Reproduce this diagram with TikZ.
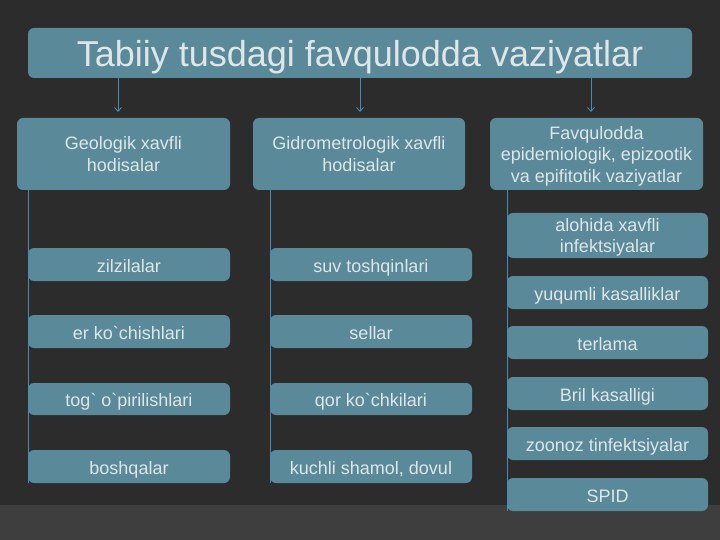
\documentclass[tikz,border=0pt]{standalone}
\usepackage{fontspec}
\setmainfont{Liberation Sans}
\usetikzlibrary{arrows.meta}
\definecolor{bgc}{RGB}{44,44,44}
\definecolor{bgb}{RGB}{62,62,62}
\definecolor{boxc}{RGB}{90,137,153}
\definecolor{txtc}{RGB}{222,230,232}
\definecolor{linec}{RGB}{70,140,180}
\tikzset{
  x=1pt,y=-1pt,
  box/.style={draw=none,fill=boxc,rounded corners=6pt,inner sep=0pt},
  txt/.style={text=txtc,align=center,inner sep=0pt,font=\fontsize{18}{21.5}\selectfont,
    execute at begin node=\strut,execute at end node=\strut},
  conn/.style={draw=linec,line width=0.8pt},
  arr/.style={draw=linec,line width=0.8pt,-{Straight Barb[length=4pt,width=7pt]}}
}
\newcommand{\bx}[6]{% name, x1,y1,x2,y2,text
  \node[box,minimum width={#4-#2},minimum height={#5-#3}] (#1) at ({(#2+#4)/2},{(#3+#5)/2}) {};
  \node[txt] (#1t) at ([yshift=-3.4pt]#1.center) {#6};}
\newcommand{\gr}{\textasciigrave}
\begin{document}
\begin{tikzpicture}
\useasboundingbox (0,0) rectangle (720,540);
\fill[bgc] (0,0) rectangle (720,540);
\fill[bgb] (0,505) rectangle (720,540);
% title
\node[box,minimum width=664,minimum height=50] (title) at (360,53) {};
\node[txt,font=\fontsize{36}{42}\selectfont] (titlet) at ([yshift=-5.6pt]title.center) {Tabiiy tusdagi favqulodda vaziyatlar};
% headers
\bx{h1}{17}{118}{230}{190}{Geologik xavfli\\hodisalar}
\bx{h2}{253}{118}{465}{190}{Gidrometrologik xavfli\\hodisalar}
\bx{h3}{490}{118}{703}{190}{Favqulodda\\epidemiologik, epizootik\\va epifitotik vaziyatlar}
% left column
\bx{a1}{28}{248}{230}{281}{zilzilalar}
\bx{a2}{28}{315}{230}{348}{er ko\gr chishlari}
\bx{a3}{28}{383}{230}{415}{tog\gr{} o\gr pirilishlari}
\bx{a4}{28}{450}{230}{483}{boshqalar}
% middle column
\bx{b1}{270}{248}{472}{281}{suv toshqinlari}
\bx{b2}{270}{315}{472}{348}{sellar}
\bx{b3}{270}{383}{472}{415}{qor ko\gr chkilari}
\bx{b4}{270}{450}{472}{483}{kuchli shamol, dovul}
% right column
\bx{c1}{507}{213}{708}{258}{alohida xavfli\\infektsiyalar}
\bx{c2}{507}{276}{708}{309}{yuqumli kasalliklar}
\bx{c3}{507}{326}{708}{359}{terlama}
\bx{c4}{507}{377}{708}{410}{Bril kasalligi}
\bx{c5}{507}{427}{708}{460}{zoonoz tinfektsiyalar}
\bx{c6}{507}{478}{708}{511}{SPID}
% arrows title -> headers
\coordinate (e1) at (118,112);
\coordinate (e2) at (360,112);
\coordinate (e3) at (591,112);
\draw[arr] (title.south -| e1) -- (e1);
\draw[arr] (title.south -| e2) -- (e2);
\draw[arr] (title.south -| e3) -- (e3);
% vertical spines
\draw[conn] (h1.south west -| a1.west) ++(1,0) -- ([xshift=1pt]a4.south west);
\draw[conn] (h2.south west -| b1.west) ++(1,0) -- ([xshift=1pt]b4.south west);
\draw[conn] (h3.south west -| c1.west) ++(1,0) -- ([xshift=1pt]c6.south west);
\end{tikzpicture}
\end{document}
